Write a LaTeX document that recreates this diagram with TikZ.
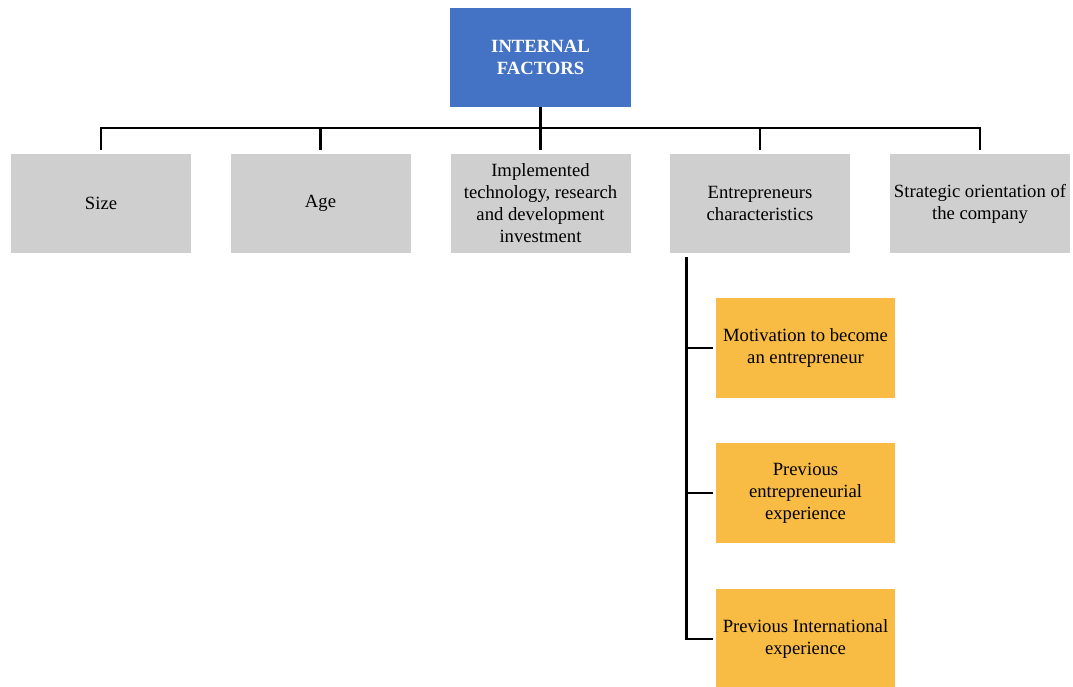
\documentclass[tikz,border=0pt]{standalone}
\usepackage{fontspec}
\setmainfont{Liberation Serif}
\usetikzlibrary{calc}

\definecolor{topblue}{HTML}{4472C4}
\definecolor{boxgray}{HTML}{CFCFCF}
\definecolor{boxorange}{HTML}{F8BB44}

\tikzset{
	base/.style = {align=center, inner sep=2pt, font=\fontsize{14}{16.5}\selectfont},
	head/.style = {base, fill=topblue, text=white, font=\fontsize{14}{16.5}\selectfont\bfseries,
		minimum width=135.75pt, minimum height=74.25pt},
	cat/.style = {base, fill=boxgray, minimum width=135pt, minimum height=74.25pt},
	sub/.style = {base, fill=boxorange, minimum width=134.25pt, minimum height=75pt},
	link/.style = {draw, line width=2pt}
}

\begin{document}
\begin{tikzpicture}[x=0.75pt, y=-0.75pt]
	\useasboundingbox (0,0) rectangle (1073,686);
	% top
	\node[head] (top) at (540.5,57.5) {INTERNAL\\FACTORS};
	% second level
	\node[cat] (size) at (101,203.5) {Size};
	\node[cat] (age) at (320.5,203.5) {Age};
	\node[cat] (tech) at (540.5,203.5) {Implemented\\technology, research\\and development\\investment};
	\node[cat] (ent) at (760,203.5) {Entrepreneurs\\characteristics};
	\node[cat] (strat) at (980,203.5) {Strategic orientation of\\the company};
	% third level
	\node[sub] (motiv) at (805.5,348) {Motivation to become\\an entrepreneur};
	\node[sub] (prev) at (805.5,493) {Previous\\entrepreneurial\\experience};
	\node[sub] (intl) at (805.5,639) {Previous International\\experience};
	% connectors
	\coordinate (bar) at (540,128);
	\draw[link, shorten >=3pt] (top.south) -- (tech.north);
	\draw[link, shorten <=3pt, shorten >=3pt] (size.north) -- (size.north |- bar)
		-- (strat.north |- bar) -- (strat.north);
	\foreach \n in {age, ent}
		\draw[link, shorten <=3pt] (\n.north) -- (\n.north |- bar);
	\coordinate (spine) at ($(ent.south west)+(17,0)$);
	\draw[link, shorten <=3pt, shorten >=2pt] (spine) |- (intl.west);
	\foreach \n in {motiv, prev}
		\draw[link, shorten >=2pt] (spine |- \n.west) -- (\n.west);
\end{tikzpicture}
\end{document}
